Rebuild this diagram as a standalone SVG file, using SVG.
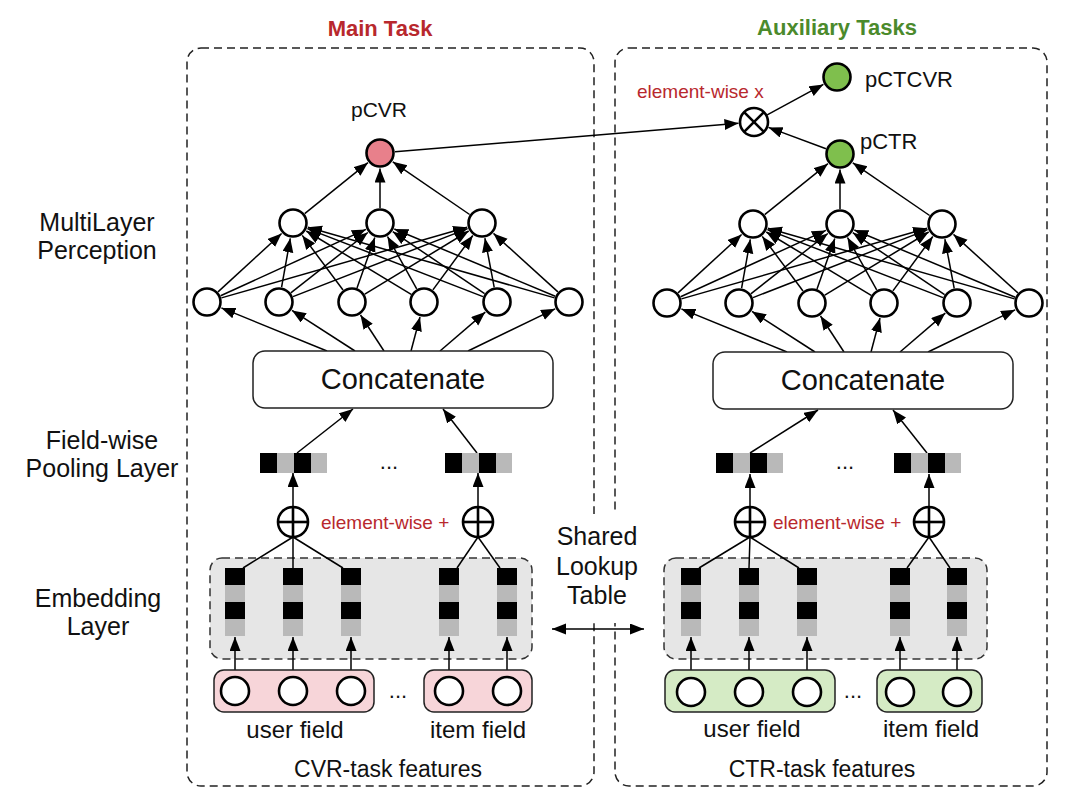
<svg xmlns="http://www.w3.org/2000/svg" xmlns:xlink="http://www.w3.org/1999/xlink" width="1080" height="799" viewBox="0 0 1080 799">
<style>
text{font-family:"Liberation Sans",Arial,Helvetica,sans-serif;fill:#111}
.panel{fill:none;stroke:#222;stroke-width:1.5;stroke-dasharray:8 5}
.emb{fill:#e6e6e6;stroke:#333;stroke-width:1.5;stroke-dasharray:8 5}
.node{fill:#fff;stroke:#000;stroke-width:2.6}
.op{fill:#fff;stroke:#000;stroke-width:2.6}
.opl{stroke:#000;stroke-width:2.6}
.box{fill:#fff;stroke:#222;stroke-width:1.5}
.pink{fill:#f7d5d9;stroke:#222;stroke-width:1.5}
.green{fill:#d5ebc5;stroke:#222;stroke-width:1.5}
.bk{fill:#000}
.gr{fill:#b9b9b9}
.c{stroke:#000;stroke-width:1.5;fill:none}
.a{stroke:#000;stroke-width:1.5;fill:none;marker-end:url(#ah)}
.lbl{font-size:25px;text-anchor:middle}
.red{fill:#b8282d;font-size:19px}
</style>
<defs>
<marker id="ah" markerUnits="userSpaceOnUse" markerWidth="15" markerHeight="12" refX="14" refY="5.5" orient="auto-start-reverse">
<path d="M0,0 L14,5.5 L0,11 z" fill="#000"/>
</marker>
<g id="poolvec">
<rect class="bk" x="0" y="0" width="17" height="20"/>
<rect class="gr" x="17" y="0" width="17" height="20"/>
<rect class="bk" x="34" y="0" width="17" height="20"/>
<rect class="gr" x="51" y="0" width="16" height="20"/>
</g>
<g id="embvec">
<rect class="bk" x="0" y="0" width="20" height="17"/>
<rect class="gr" x="0" y="17" width="20" height="17"/>
<rect class="bk" x="0" y="34" width="20" height="17"/>
<rect class="gr" x="0" y="51" width="20" height="17"/>
</g>
</defs>
<rect width="1080" height="799" fill="#fff"/>

<g id="panels">
<rect class="panel" x="187" y="48" width="407" height="738" rx="14"/>
<rect class="panel" x="615" y="48" width="432" height="738" rx="14"/>
<rect x="584" y="514" width="38" height="109" fill="#fff"/>
</g>

<g id="titles">
<text x="380" y="36" text-anchor="middle" style="font-weight:bold;font-size:22px;fill:#b8282d">Main Task</text>
<text x="837" y="35" text-anchor="middle" style="font-weight:bold;font-size:22px;fill:#4b8a2c">Auxiliary Tasks</text>
</g>

<g id="layer-labels">
<text class="lbl" x="97" y="231">MultiLayer</text>
<text class="lbl" x="97" y="259">Perception</text>
<text class="lbl" x="102" y="449">Field-wise</text>
<text class="lbl" x="102" y="477">Pooling Layer</text>
<text class="lbl" x="98" y="607">Embedding</text>
<text class="lbl" x="98" y="635">Layer</text>
</g>

<g id="shared-lookup">
<text class="lbl" x="597" y="545">Shared</text>
<text class="lbl" x="597" y="575">Lookup</text>
<text class="lbl" x="597" y="604">Table</text>
</g>

<g id="embedding-left">
<rect class="emb" x="210" y="558" width="322" height="101" rx="12"/>
<use xlink:href="#embvec" href="#embvec" x="225" y="568"/>
<use xlink:href="#embvec" href="#embvec" x="283" y="568"/>
<use xlink:href="#embvec" href="#embvec" x="341" y="568"/>
<use xlink:href="#embvec" href="#embvec" x="439" y="568"/>
<use xlink:href="#embvec" href="#embvec" x="497" y="568"/>
</g>
<g id="embedding-right">
<rect class="emb" x="664" y="558" width="323" height="101" rx="12"/>
<use xlink:href="#embvec" href="#embvec" x="681" y="568"/>
<use xlink:href="#embvec" href="#embvec" x="739" y="568"/>
<use xlink:href="#embvec" href="#embvec" x="797" y="568"/>
<use xlink:href="#embvec" href="#embvec" x="890" y="568"/>
<use xlink:href="#embvec" href="#embvec" x="947" y="568"/>
</g>

<g id="connectors">
<g id="conn-mlp-left">
<line class="a" x1="218" y1="291.9" x2="281.6" y2="233.5"/>
<line class="a" x1="220.6" y1="295.8" x2="365.9" y2="229.4"/>
<line class="a" x1="221.4" y1="297.9" x2="467.1" y2="227.3"/>
<line class="a" x1="281.6" y1="287.2" x2="290.3" y2="238.3"/>
<line class="a" x1="290.8" y1="292.8" x2="367.8" y2="232.5"/>
<line class="a" x1="293" y1="296.6" x2="467.6" y2="228.6"/>
<line class="a" x1="343" y1="290" x2="302.3" y2="235.4"/>
<line class="a" x1="357" y1="287.9" x2="374.8" y2="237.6"/>
<line class="a" x1="364.8" y1="294.2" x2="468.7" y2="231"/>
<line class="a" x1="411.2" y1="294.3" x2="306.3" y2="231"/>
<line class="a" x1="416.7" y1="288.9" x2="387.5" y2="236.5"/>
<line class="a" x1="432.9" y1="289.9" x2="472.8" y2="235.5"/>
<line class="a" x1="483" y1="296.6" x2="307.4" y2="228.6"/>
<line class="a" x1="484.6" y1="293.6" x2="392.8" y2="231.7"/>
<line class="a" x1="494.2" y1="287.3" x2="484.9" y2="238.2"/>
<line class="a" x1="554.6" y1="297.9" x2="307.9" y2="227.3"/>
<line class="a" x1="555.2" y1="296.2" x2="394.3" y2="229"/>
<line class="a" x1="557.9" y1="291.9" x2="493.5" y2="233.4"/>
<line class="a" x1="304.7" y1="213.6" x2="367.9" y2="162.7"/>
<line class="a" x1="380" y1="208" x2="380" y2="168.5"/>
<line class="a" x1="469.6" y1="214.5" x2="392.8" y2="161.8"/>
<line class="a" x1="327" y1="351" x2="221.4" y2="307.9"/>
<line class="a" x1="355" y1="351" x2="292" y2="310.4"/>
<line class="a" x1="384" y1="351" x2="360.5" y2="315"/>
<line class="a" x1="411" y1="351" x2="420" y2="317"/>
<line class="a" x1="440" y1="351" x2="485.3" y2="312.1"/>
<line class="a" x1="468" y1="351" x2="555.1" y2="308.8"/>
</g>
<g id="conn-mlp-right" transform="translate(460,1)">
<line class="a" x1="218" y1="291.9" x2="281.6" y2="233.5"/>
<line class="a" x1="220.6" y1="295.8" x2="365.9" y2="229.4"/>
<line class="a" x1="221.4" y1="297.9" x2="467.1" y2="227.3"/>
<line class="a" x1="281.6" y1="287.2" x2="290.3" y2="238.3"/>
<line class="a" x1="290.8" y1="292.8" x2="367.8" y2="232.5"/>
<line class="a" x1="293" y1="296.6" x2="467.6" y2="228.6"/>
<line class="a" x1="343" y1="290" x2="302.3" y2="235.4"/>
<line class="a" x1="357" y1="287.9" x2="374.8" y2="237.6"/>
<line class="a" x1="364.8" y1="294.2" x2="468.7" y2="231"/>
<line class="a" x1="411.2" y1="294.3" x2="306.3" y2="231"/>
<line class="a" x1="416.7" y1="288.9" x2="387.5" y2="236.5"/>
<line class="a" x1="432.9" y1="289.9" x2="472.8" y2="235.5"/>
<line class="a" x1="483" y1="296.6" x2="307.4" y2="228.6"/>
<line class="a" x1="484.6" y1="293.6" x2="392.8" y2="231.7"/>
<line class="a" x1="494.2" y1="287.3" x2="484.9" y2="238.2"/>
<line class="a" x1="554.6" y1="297.9" x2="307.9" y2="227.3"/>
<line class="a" x1="555.2" y1="296.2" x2="394.3" y2="229"/>
<line class="a" x1="557.9" y1="291.9" x2="493.5" y2="233.4"/>
<line class="a" x1="304.7" y1="213.6" x2="367.9" y2="162.7"/>
<line class="a" x1="380" y1="208" x2="380" y2="168.5"/>
<line class="a" x1="469.6" y1="214.5" x2="392.8" y2="161.8"/>
<line class="a" x1="327" y1="351" x2="221.4" y2="307.9"/>
<line class="a" x1="355" y1="351" x2="292" y2="310.4"/>
<line class="a" x1="384" y1="351" x2="360.5" y2="315"/>
<line class="a" x1="411" y1="351" x2="420" y2="317"/>
<line class="a" x1="440" y1="351" x2="485.3" y2="312.1"/>
<line class="a" x1="468" y1="351" x2="555.1" y2="308.8"/>
</g>
<line class="a" x1="395" y1="151.8" x2="738.5" y2="123.3"/>
<line class="a" x1="826" y1="148.8" x2="768.5" y2="127.4"/>
<line class="a" x1="767.2" y1="114.8" x2="823.4" y2="84.4"/>
<line class="a" x1="297" y1="453" x2="353" y2="409"/>
<line class="a" x1="477" y1="453" x2="443" y2="409"/>
<line class="a" x1="293" y1="507" x2="293" y2="473"/>
<line class="a" x1="478" y1="507" x2="478" y2="473"/>
<line class="c" x1="243" y1="568" x2="293" y2="537"/>
<line class="c" x1="293" y1="568" x2="293" y2="537"/>
<line class="c" x1="343" y1="568" x2="293" y2="537"/>
<line class="c" x1="457" y1="568" x2="478" y2="537"/>
<line class="c" x1="500" y1="568" x2="478" y2="537"/>
<line class="a" x1="235" y1="677" x2="235" y2="637"/>
<line class="a" x1="293" y1="677" x2="293" y2="637"/>
<line class="a" x1="351" y1="677" x2="351" y2="637"/>
<line class="a" x1="449" y1="677" x2="449" y2="637"/>
<line class="a" x1="507" y1="677" x2="507" y2="637"/>
<line class="a" x1="750" y1="453" x2="818" y2="410"/>
<line class="a" x1="927" y1="453" x2="893" y2="410"/>
<line class="a" x1="750" y1="507" x2="750" y2="474"/>
<line class="a" x1="929" y1="507" x2="929" y2="474"/>
<line class="c" x1="699" y1="568" x2="750" y2="537"/>
<line class="c" x1="749" y1="568" x2="750" y2="537"/>
<line class="c" x1="799" y1="568" x2="750" y2="537"/>
<line class="c" x1="907" y1="568" x2="929" y2="537"/>
<line class="c" x1="950" y1="568" x2="929" y2="537"/>
<line class="a" x1="691" y1="678" x2="691" y2="637"/>
<line class="a" x1="749" y1="678" x2="749" y2="637"/>
<line class="a" x1="807" y1="678" x2="807" y2="637"/>
<line class="a" x1="900" y1="678" x2="900" y2="637"/>
<line class="a" x1="957" y1="678" x2="957" y2="637"/>
<line class="c" x1="552" y1="629" x2="644" y2="629" marker-start="url(#ah)" marker-end="url(#ah)"/>
</g>

<g id="pooling-left">
<use xlink:href="#poolvec" href="#poolvec" x="260" y="453"/>
<use xlink:href="#poolvec" href="#poolvec" x="445" y="453"/>
<text x="389" y="469" text-anchor="middle" style="font-size:22px">...</text>
</g>
<g id="pooling-right">
<use xlink:href="#poolvec" href="#poolvec" x="716" y="453"/>
<use xlink:href="#poolvec" href="#poolvec" x="894" y="453"/>
<text x="845" y="469" text-anchor="middle" style="font-size:22px">...</text>
</g>

<g id="sum-left">
<circle class="op" cx="293" cy="522" r="15"/><line class="opl" x1="278" y1="522" x2="308" y2="522"/><line class="opl" x1="293" y1="507" x2="293" y2="537"/>
<circle class="op" cx="478" cy="522" r="15"/><line class="opl" x1="463" y1="522" x2="493" y2="522"/><line class="opl" x1="478" y1="507" x2="478" y2="537"/>
<text class="red" x="321" y="529">element-wise +</text>
</g>
<g id="sum-right">
<circle class="op" cx="750" cy="522" r="15"/><line class="opl" x1="735" y1="522" x2="765" y2="522"/><line class="opl" x1="750" y1="507" x2="750" y2="537"/>
<circle class="op" cx="929" cy="522" r="15"/><line class="opl" x1="914" y1="522" x2="944" y2="522"/><line class="opl" x1="929" y1="507" x2="929" y2="537"/>
<text class="red" x="773" y="529">element-wise +</text>
</g>

<g id="fields-left">
<rect class="pink" x="214" y="670" width="160" height="42" rx="10"/>
<rect class="pink" x="424" y="670" width="108" height="42" rx="10"/>
<circle class="node" cx="235" cy="691" r="14"/>
<circle class="node" cx="293" cy="691" r="14"/>
<circle class="node" cx="351" cy="691" r="14"/>
<circle class="node" cx="449" cy="691" r="14"/>
<circle class="node" cx="507" cy="691" r="14"/>
<text x="398" y="698" text-anchor="middle" style="font-size:22px">...</text>
<text x="295" y="738" text-anchor="middle" style="font-size:24px">user field</text>
<text x="478" y="738" text-anchor="middle" style="font-size:24px">item field</text>
<text x="388" y="777" text-anchor="middle" style="font-size:23px">CVR-task features</text>
</g>
<g id="fields-right">
<rect class="green" x="665" y="670" width="170" height="42" rx="10"/>
<rect class="green" x="877" y="670" width="105" height="42" rx="10"/>
<circle class="node" cx="691" cy="692" r="14"/>
<circle class="node" cx="749" cy="692" r="14"/>
<circle class="node" cx="807" cy="692" r="14"/>
<circle class="node" cx="900" cy="692" r="14"/>
<circle class="node" cx="957" cy="692" r="14"/>
<text x="853" y="698" text-anchor="middle" style="font-size:22px">...</text>
<text x="752" y="737" text-anchor="middle" style="font-size:24px">user field</text>
<text x="931" y="737" text-anchor="middle" style="font-size:24px">item field</text>
<text x="822" y="777" text-anchor="middle" style="font-size:23px">CTR-task features</text>
</g>

<g id="concat-left">
<rect class="box" x="253" y="351" width="300" height="57" rx="12"/>
<text x="403" y="389" text-anchor="middle" style="font-size:29px">Concatenate</text>
</g>
<g id="concat-right">
<rect class="box" x="713" y="352" width="300" height="57" rx="12"/>
<text x="863" y="390" text-anchor="middle" style="font-size:29px">Concatenate</text>
</g>

<g id="mlp-left">
<circle class="node" cx="207" cy="302" r="13.5"/>
<circle class="node" cx="279" cy="302" r="13.5"/>
<circle class="node" cx="352" cy="302" r="13.5"/>
<circle class="node" cx="424" cy="302" r="13.5"/>
<circle class="node" cx="497" cy="302" r="13.5"/>
<circle class="node" cx="569" cy="302" r="13.5"/>
<circle class="node" cx="293" cy="223" r="13.5"/>
<circle class="node" cx="380" cy="223" r="13.5"/>
<circle class="node" cx="482" cy="223" r="13.5"/>
</g>
<g id="mlp-right">
<circle class="node" cx="667" cy="303" r="13.5"/>
<circle class="node" cx="739" cy="303" r="13.5"/>
<circle class="node" cx="812" cy="303" r="13.5"/>
<circle class="node" cx="884" cy="303" r="13.5"/>
<circle class="node" cx="957" cy="303" r="13.5"/>
<circle class="node" cx="1029" cy="303" r="13.5"/>
<circle class="node" cx="753" cy="224" r="13.5"/>
<circle class="node" cx="840" cy="224" r="13.5"/>
<circle class="node" cx="942" cy="224" r="13.5"/>
</g>

<g id="pCVR">
<circle cx="380" cy="153" r="13.5" fill="#e8808b" stroke="#000" stroke-width="2.6"/>
<text x="379" y="117" text-anchor="middle" style="font-size:21px">pCVR</text>
</g>
<g id="pCTR">
<circle cx="840" cy="154" r="13.5" fill="#7fbf4d" stroke="#000" stroke-width="2.6"/>
<text x="860" y="149" style="font-size:22px">pCTR</text>
</g>
<g id="pCTCVR">
<circle cx="837" cy="77" r="13.5" fill="#7fbf4d" stroke="#000" stroke-width="2.6"/>
<text x="865" y="87" style="font-size:22px">pCTCVR</text>
</g>
<g id="multiply">
<circle class="op" cx="754" cy="122" r="14"/>
<line class="opl" x1="744.1" y1="112.1" x2="763.9" y2="131.9"/>
<line class="opl" x1="763.9" y1="112.1" x2="744.1" y2="131.9"/>
<text class="red" x="637" y="98">element-wise x</text>
</g>
</svg>
